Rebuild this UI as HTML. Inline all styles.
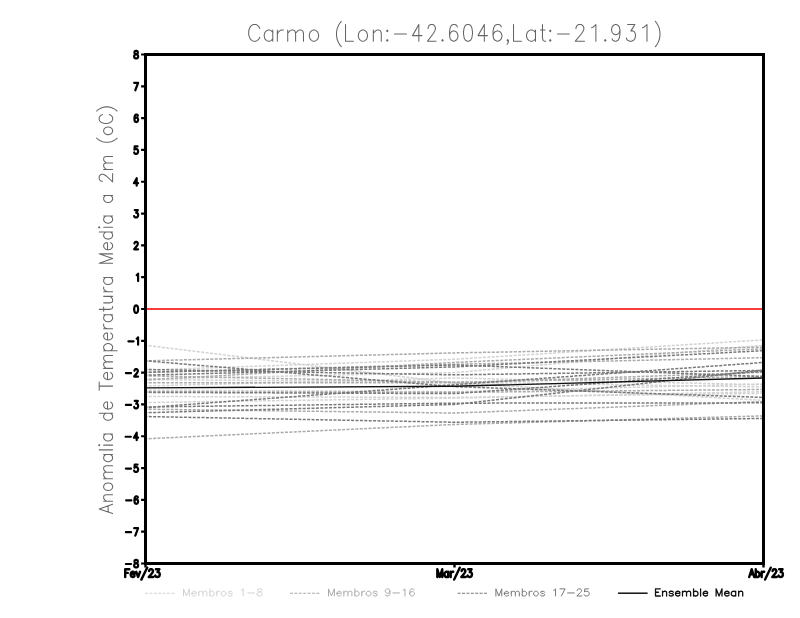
<!DOCTYPE html>
<html lang="pt"><head><meta charset="utf-8"><title>Carmo (Lon:-42.6046,Lat:-21.931)</title>
<style>
html,body{margin:0;padding:0;background:#fff;font-family:"Liberation Sans",sans-serif;}
body{width:800px;height:618px;overflow:hidden;}
svg{display:block;}
</style></head><body>
<svg width="800" height="618" viewBox="0 0 800 618">
<rect width="800" height="618" fill="#fff"/>
<g id="title" fill="none" stroke="#646464" stroke-width="1.05" stroke-linecap="round" stroke-linejoin="round">
<path d="M259.78 37.2 L259.04 38.78 L257.57 40.36 L256.09 41.15 L253.15 41.15 L251.67 40.36 L250.2 38.78 L249.46 37.2 L248.72 34.83 L248.72 30.88 L249.46 28.51 L250.2 26.93 L251.67 25.35 L253.15 24.56 L256.09 24.56 L257.57 25.35 L259.04 26.93 L259.78 28.51 M272.78 38.78 L271.35 40.36 L269.93 41.15 L267.79 41.15 L266.36 40.36 L264.94 38.78 L264.23 36.41 L264.23 34.83 L264.94 32.46 L266.36 30.88 L267.79 30.09 L269.93 30.09 L271.35 30.88 L272.78 32.46 M272.78 41.15 L272.78 30.09 M277.33 41.15 L277.33 30.09 M277.33 34.83 L278.09 32.46 L279.63 30.88 L281.17 30.09 L283.48 30.09 M287.72 41.15 L287.72 30.09 M287.72 33.25 L289.87 30.88 L291.3 30.09 L293.45 30.09 L294.88 30.88 L295.6 33.25 L295.6 41.15 M295.6 33.25 L297.75 30.88 L299.18 30.09 L301.33 30.09 L302.76 30.88 L303.48 33.25 L303.48 41.15 M309.32 36.41 L309.32 34.83 L310.04 32.46 L311.46 30.88 L312.88 30.09 L315.02 30.09 L316.44 30.88 L317.86 32.46 L318.58 34.83 L318.58 36.41 L317.86 38.78 L316.44 40.36 L315.02 41.15 L312.88 41.15 L311.46 40.36 L310.04 38.78 L309.32 36.41 M341.28 46.68 L339.92 45.1 L338.56 42.73 L337.2 39.57 L336.52 35.62 L336.52 32.46 L337.2 28.51 L338.56 25.35 L339.92 22.98 L341.28 21.4 M345.52 24.56 L345.52 41.15 L353.48 41.15 M358.32 36.41 L358.32 34.83 L359.03 32.46 L360.44 30.88 L361.84 30.09 L363.96 30.09 L365.36 30.88 L366.77 32.46 L367.48 34.83 L367.48 36.41 L366.77 38.78 L365.36 40.36 L363.96 41.15 L361.84 41.15 L360.44 40.36 L359.03 38.78 L358.32 36.41 M373.32 41.15 L373.32 30.09 M373.32 33.25 L375.49 30.88 L376.94 30.09 L379.11 30.09 L380.55 30.88 L381.28 33.25 L381.28 41.15 M386.59 40.36 L387.25 41.15 L387.91 40.36 L387.25 39.57 L386.59 40.36 M386.59 30.88 L387.25 31.67 L387.91 30.88 L387.25 30.09 L386.59 30.88 M394.52 34.04 L406.48 34.04 M421.98 35.62 L412.52 35.62 L418.83 24.56 L418.83 41.15 M435.98 41.15 L427.52 41.15 L433.56 33.25 L434.77 30.88 L435.37 29.3 L435.37 27.72 L434.77 26.14 L434.16 25.35 L432.96 24.56 L430.54 24.56 L429.34 25.35 L428.73 26.14 L428.13 27.72 L428.13 28.51 M441.89 40.36 L442.55 41.15 L443.21 40.36 L442.55 39.57 L441.89 40.36 M449.52 35.62 L449.52 31.67 L450.17 27.72 L451.47 25.35 L453.43 24.56 L454.73 24.56 L456.68 25.35 L457.32 26.93 M449.52 35.62 L450.17 38.78 L451.47 40.36 L453.43 41.15 L454.07 41.15 L456.02 40.36 L457.32 38.78 L457.98 36.41 L457.98 35.62 L457.32 33.25 L456.02 31.67 L454.07 30.88 L453.43 30.88 L451.47 31.67 L450.17 33.25 L449.52 35.62 M463.52 34.04 L463.52 31.67 L464.16 27.72 L465.44 25.35 L467.36 24.56 L468.64 24.56 L470.56 25.35 L471.84 27.72 L472.48 31.67 L472.48 34.04 L471.84 37.99 L470.56 40.36 L468.64 41.15 L467.36 41.15 L465.44 40.36 L464.16 37.99 L463.52 34.04 M487.48 35.62 L478.02 35.62 L484.33 24.56 L484.33 41.15 M493.02 35.62 L493.02 31.67 L493.71 27.72 L495.09 25.35 L497.16 24.56 L498.53 24.56 L500.6 25.35 L501.29 26.93 M493.02 35.62 L493.71 38.78 L495.09 40.36 L497.16 41.15 L497.84 41.15 L499.91 40.36 L501.29 38.78 L501.98 36.41 L501.98 35.62 L501.29 33.25 L499.91 31.67 L497.84 30.88 L497.16 30.88 L495.09 31.67 L493.71 33.25 L493.02 35.62 M507.09 44.31 L507.75 43.52 L508.41 41.94 L508.41 40.36 L507.75 41.15 L507.09 40.36 L507.75 39.57 L508.41 40.36 M513.52 24.56 L513.52 41.15 L521.48 41.15 M535.47 38.78 L533.98 40.36 L532.49 41.15 L530.25 41.15 L528.76 40.36 L527.27 38.78 L526.52 36.41 L526.52 34.83 L527.27 32.46 L528.76 30.88 L530.25 30.09 L532.49 30.09 L533.98 30.88 L535.47 32.46 M535.47 41.15 L535.47 30.09 M540.52 30.09 L545.03 30.09 M542.46 24.56 L542.46 37.99 L543.1 40.36 L544.39 41.15 L545.68 41.15 M549.59 40.36 L550.25 41.15 L550.91 40.36 L550.25 39.57 L549.59 40.36 M549.59 30.88 L550.25 31.67 L550.91 30.88 L550.25 30.09 L549.59 30.88 M557.52 34.04 L569.27 34.04 M584.48 41.15 L575.32 41.15 L581.86 33.25 L583.17 30.88 L583.82 29.3 L583.82 27.72 L583.17 26.14 L582.51 25.35 L581.21 24.56 L578.59 24.56 L577.29 25.35 L576.63 26.14 L575.98 27.72 L575.98 28.51 M591.62 27.72 L593.32 26.93 L595.88 24.56 L595.88 41.15 M604.59 40.36 L605.25 41.15 L605.91 40.36 L605.25 39.57 L604.59 40.36 M612.17 38.78 L612.82 40.36 L614.77 41.15 L616.07 41.15 L618.02 40.36 L619.32 37.99 L619.98 34.04 L619.98 30.09 L619.32 32.46 L618.02 34.04 L616.07 34.83 L615.42 34.83 L613.47 34.04 L612.17 32.46 L611.52 30.09 L611.52 29.3 L612.17 26.93 L613.47 25.35 L615.42 24.56 L616.07 24.56 L618.02 25.35 L619.32 26.93 L619.98 30.09 M626.32 37.99 L626.98 39.57 L627.63 40.36 L629.59 41.15 L631.55 41.15 L633.51 40.36 L634.82 38.78 L635.48 36.41 L635.48 34.83 L634.82 32.46 L634.17 31.67 L632.86 30.88 L630.9 30.88 L634.82 24.56 L627.63 24.56 M642.52 27.72 L644.31 26.93 L646.98 24.56 L646.98 41.15 M655.32 46.68 L656.65 45.1 L657.98 42.73 L659.31 39.57 L659.98 35.62 L659.98 32.46 L659.31 28.51 L657.98 25.35 L656.65 22.98 L655.32 21.4"/></g>
<text x="248" y="41.15" font-family="Liberation Sans, sans-serif" font-size="24" fill="none" text-anchor="start">Carmo (Lon:-42.6046,Lat:-21.931)</text>
<g id="ylabel" fill="none" stroke="#686868" stroke-width="1.05" stroke-linecap="round" stroke-linejoin="round">
<path d="M112.6 513.6 L99.2 508.88 L112.6 504.16 M108.13 511.83 L108.13 505.93 M112.6 501.2 L103.67 501.2 M106.22 501.2 L104.31 499.43 L103.67 498.25 L103.67 496.48 L104.31 495.3 L106.22 494.71 L112.6 494.71 M108.77 490.58 L107.5 490.58 L105.58 489.99 L104.31 488.81 L103.67 487.63 L103.67 485.86 L104.31 484.68 L105.58 483.49 L107.5 482.9 L108.77 482.9 L110.69 483.49 L111.96 484.68 L112.6 485.86 L112.6 487.63 L111.96 488.81 L110.69 489.99 L108.77 490.58 M112.6 478.77 L103.67 478.77 M106.22 478.77 L104.31 477 L103.67 475.82 L103.67 474.05 L104.31 472.87 L106.22 472.28 L112.6 472.28 M106.22 472.28 L104.31 470.51 L103.67 469.33 L103.67 467.56 L104.31 466.38 L106.22 465.79 L112.6 465.79 M110.69 454.57 L111.96 455.75 L112.6 456.93 L112.6 458.7 L111.96 459.88 L110.69 461.06 L108.77 461.65 L107.5 461.65 L105.58 461.06 L104.31 459.88 L103.67 458.7 L103.67 456.93 L104.31 455.75 L105.58 454.57 M112.6 454.57 L103.67 454.57 M112.6 449.85 L99.2 449.85 M112.6 445.13 L103.67 445.13 M99.2 445.72 L99.84 445.13 L99.2 444.53 L98.56 445.13 L99.2 445.72 M110.69 433.91 L111.96 435.09 L112.6 436.27 L112.6 438.04 L111.96 439.22 L110.69 440.4 L108.77 440.99 L107.5 440.99 L105.58 440.4 L104.31 439.22 L103.67 438.04 L103.67 436.27 L104.31 435.09 L105.58 433.91 M112.6 433.91 L103.67 433.91 M110.69 413.25 L111.96 414.43 L112.6 415.61 L112.6 417.38 L111.96 418.56 L110.69 419.74 L108.77 420.33 L107.5 420.33 L105.58 419.74 L104.31 418.56 L103.67 417.38 L103.67 415.61 L104.31 414.43 L105.58 413.25 M112.6 413.25 L99.2 413.25 M107.5 409.12 L108.77 409.12 L110.69 408.53 L111.96 407.35 L112.6 406.17 L112.6 404.39 L111.96 403.21 L110.69 402.03 M107.5 409.12 L105.58 408.53 L104.31 407.35 L103.67 406.17 L103.67 404.39 L104.31 403.21 L104.94 402.62 L106.22 402.03 L107.5 402.03 L107.5 409.12 M99.2 390.23 L99.2 381.96 M112.6 386.1 L99.2 386.1 M107.5 379.6 L108.77 379.6 L110.69 379.01 L111.96 377.83 L112.6 376.65 L112.6 374.88 L111.96 373.7 L110.69 372.52 M107.5 379.6 L105.58 379.01 L104.31 377.83 L103.67 376.65 L103.67 374.88 L104.31 373.7 L104.94 373.11 L106.22 372.52 L107.5 372.52 L107.5 379.6 M112.6 368.39 L103.67 368.39 M106.22 368.39 L104.31 366.62 L103.67 365.43 L103.67 363.66 L104.31 362.48 L106.22 361.89 L112.6 361.89 M106.22 361.89 L104.31 360.12 L103.67 358.94 L103.67 357.17 L104.31 355.99 L106.22 355.4 L112.6 355.4 M117.07 350.68 L103.67 350.68 M110.69 350.68 L111.96 349.5 L112.6 348.32 L112.6 346.55 L111.96 345.36 L110.69 344.18 L108.77 343.59 L107.5 343.59 L105.58 344.18 L104.31 345.36 L103.67 346.55 L103.67 348.32 L104.31 349.5 L105.58 350.68 M107.5 340.05 L108.77 340.05 L110.69 339.46 L111.96 338.28 L112.6 337.1 L112.6 335.33 L111.96 334.15 L110.69 332.97 M107.5 340.05 L105.58 339.46 L104.31 338.28 L103.67 337.1 L103.67 335.33 L104.31 334.15 L104.94 333.56 L106.22 332.97 L107.5 332.97 L107.5 340.05 M112.6 328.84 L103.67 328.84 M107.5 328.84 L105.58 328.25 L104.31 327.07 L103.67 325.88 L103.67 324.11 M110.69 314.67 L111.96 315.85 L112.6 317.03 L112.6 318.8 L111.96 319.98 L110.69 321.16 L108.77 321.75 L107.5 321.75 L105.58 321.16 L104.31 319.98 L103.67 318.8 L103.67 317.03 L104.31 315.85 L105.58 314.67 M112.6 314.67 L103.67 314.67 M103.67 311.13 L103.67 307 M99.2 309.36 L110.05 309.36 L111.96 308.77 L112.6 307.59 L112.6 306.4 M103.67 302.86 L110.05 302.86 L111.96 302.27 L112.6 301.09 L112.6 299.32 L111.96 298.14 L110.05 296.37 M112.6 296.37 L103.67 296.37 M112.6 291.65 L103.67 291.65 M107.5 291.65 L105.58 291.06 L104.31 289.88 L103.67 288.7 L103.67 286.92 M110.69 277.48 L111.96 278.66 L112.6 279.84 L112.6 281.61 L111.96 282.79 L110.69 283.97 L108.77 284.56 L107.5 284.56 L105.58 283.97 L104.31 282.79 L103.67 281.61 L103.67 279.84 L104.31 278.66 L105.58 277.48 M112.6 277.48 L103.67 277.48 M112.6 263.31 L99.2 263.31 L112.6 258.59 L99.2 253.87 L112.6 253.87 M107.5 249.74 L108.77 249.74 L110.69 249.15 L111.96 247.96 L112.6 246.78 L112.6 245.01 L111.96 243.83 L110.69 242.65 M107.5 249.74 L105.58 249.15 L104.31 247.96 L103.67 246.78 L103.67 245.01 L104.31 243.83 L104.94 243.24 L106.22 242.65 L107.5 242.65 L107.5 249.74 M110.69 232.03 L111.96 233.21 L112.6 234.39 L112.6 236.16 L111.96 237.34 L110.69 238.52 L108.77 239.11 L107.5 239.11 L105.58 238.52 L104.31 237.34 L103.67 236.16 L103.67 234.39 L104.31 233.21 L105.58 232.03 M112.6 232.03 L99.2 232.03 M112.6 227.3 L103.67 227.3 M99.2 227.89 L99.84 227.3 L99.2 226.71 L98.56 227.3 L99.2 227.89 M110.69 216.09 L111.96 217.27 L112.6 218.45 L112.6 220.22 L111.96 221.4 L110.69 222.58 L108.77 223.17 L107.5 223.17 L105.58 222.58 L104.31 221.4 L103.67 220.22 L103.67 218.45 L104.31 217.27 L105.58 216.09 M112.6 216.09 L103.67 216.09 M110.69 195.43 L111.96 196.61 L112.6 197.79 L112.6 199.56 L111.96 200.74 L110.69 201.92 L108.77 202.51 L107.5 202.51 L105.58 201.92 L104.31 200.74 L103.67 199.56 L103.67 197.79 L104.31 196.61 L105.58 195.43 M112.6 195.43 L103.67 195.43 M112.6 173.59 L112.6 181.85 L106.22 175.95 L104.31 174.77 L103.03 174.18 L101.75 174.18 L100.48 174.77 L99.84 175.36 L99.2 176.54 L99.2 178.9 L99.84 180.08 L100.48 180.67 L101.75 181.26 L102.39 181.26 M112.6 169.46 L103.67 169.46 M106.22 169.46 L104.31 167.68 L103.67 166.5 L103.67 164.73 L104.31 163.55 L106.22 162.96 L112.6 162.96 M106.22 162.96 L104.31 161.19 L103.67 160.01 L103.67 158.24 L104.31 157.06 L106.22 156.47 L112.6 156.47 M117.07 138.17 L115.79 139.35 L113.88 140.53 L111.32 141.71 L108.13 142.3 L105.58 142.3 L102.39 141.71 L99.84 140.53 L97.93 139.35 L96.65 138.17 M108.77 134.63 L107.5 134.63 L105.58 134.04 L104.31 132.86 L103.67 131.68 L103.67 129.9 L104.31 128.72 L105.58 127.54 L107.5 126.95 L108.77 126.95 L110.69 127.54 L111.96 128.72 L112.6 129.9 L112.6 131.68 L111.96 132.86 L110.69 134.04 L108.77 134.63 M109.41 114.56 L110.69 115.15 L111.96 116.33 L112.6 117.51 L112.6 119.87 L111.96 121.05 L110.69 122.23 L109.41 122.82 L107.5 123.41 L104.31 123.41 L102.39 122.82 L101.12 122.23 L99.84 121.05 L99.2 119.87 L99.2 117.51 L99.84 116.33 L101.12 115.15 L102.39 114.56 M117.07 111.02 L115.79 109.83 L113.88 108.65 L111.32 107.47 L108.13 106.88 L105.58 106.88 L102.39 107.47 L99.84 108.65 L97.93 109.83 L96.65 111.02"/></g>
<text x="112.6" y="514.19" font-family="Liberation Sans, sans-serif" font-size="18" fill="none" text-anchor="start" transform="rotate(-90 112.6 514.19)">Anomalia de Temperatura Media a 2m (oC)</text>
<g id="members" fill="none" stroke-width="1.5" stroke-dasharray="3 1.4" stroke-dashoffset="1.15">
<path stroke="#d2d2d2" d="M145.5 345.27 L454.5 383.12 L763.5 400.3"/>
<path stroke="#d2d2d2" d="M145.5 370.08 L454.5 359.26 L763.5 339.86"/>
<path stroke="#d2d2d2" d="M145.5 385.99 L454.5 378.03 L763.5 384.71"/>
<path stroke="#d2d2d2" d="M145.5 396.48 L454.5 397.44 L763.5 393.3"/>
<path stroke="#d2d2d2" d="M145.5 402.53 L454.5 398.07 L763.5 391.71"/>
<path stroke="#d2d2d2" d="M145.5 378.99 L454.5 372.62 L763.5 345.27"/>
<path stroke="#d2d2d2" d="M145.5 379.62 L454.5 382.17 L763.5 386.94"/>
<path stroke="#d2d2d2" d="M145.5 390.12 L454.5 391.71 L763.5 384.08"/>
<path stroke="#aaaaaa" d="M145.5 360.85 L454.5 352.9 L763.5 347.18"/>
<path stroke="#aaaaaa" d="M145.5 379.94 L454.5 362.44 L763.5 348.77"/>
<path stroke="#aaaaaa" d="M145.5 372.31 L454.5 364.35 L763.5 357.67"/>
<path stroke="#aaaaaa" d="M145.5 382.81 L454.5 382.81 L763.5 372.31"/>
<path stroke="#aaaaaa" d="M145.5 438.8 L454.5 424.48 L763.5 415.89"/>
<path stroke="#aaaaaa" d="M145.5 409.21 L454.5 413.03 L763.5 401.57"/>
<path stroke="#aaaaaa" d="M145.5 391.71 L454.5 392.35 L763.5 389.49"/>
<path stroke="#aaaaaa" d="M145.5 375.81 L454.5 382.17 L763.5 376.44"/>
<path stroke="#787878" d="M145.5 360.85 L454.5 386.62 L763.5 397.44"/>
<path stroke="#787878" d="M145.5 375.17 L454.5 366.9 L763.5 350.67"/>
<path stroke="#787878" d="M145.5 369.44 L454.5 374.85 L763.5 370.4"/>
<path stroke="#787878" d="M145.5 407.62 L454.5 384.71 L763.5 362.44"/>
<path stroke="#787878" d="M145.5 392.35 L454.5 393.62 L763.5 371.35"/>
<path stroke="#787878" d="M145.5 406.98 L454.5 403.16 L763.5 402.85"/>
<path stroke="#787878" d="M145.5 412.71 L454.5 404.44 L763.5 370.08"/>
<path stroke="#787878" d="M145.5 416.53 L454.5 422.25 L763.5 418.44"/>
<path stroke="#787878" d="M145.5 372.31 L454.5 364.99 L763.5 376.44"/>
</g>
<path id="zero" d="M145.5 309 H763.5" stroke="#fa3c3c" stroke-width="2" fill="none"/>
<path id="mean" fill="none" stroke="#111" stroke-width="1.4" d="M145.5 387.89 L454.5 386.3 L763.5 378.03"/>
<rect id="frame" x="145.5" y="54.5" width="618" height="509" fill="none" stroke="#000" stroke-width="3"/>
<path id="yticks" d="M141.1 563.5 H145.5 M141.1 531.69 H145.5 M141.1 499.88 H145.5 M141.1 468.06 H145.5 M141.1 436.25 H145.5 M141.1 404.44 H145.5 M141.1 372.62 H145.5 M141.1 340.81 H145.5 M141.1 309 H145.5 M141.1 277.19 H145.5 M141.1 245.38 H145.5 M141.1 213.56 H145.5 M141.1 181.75 H145.5 M141.1 149.94 H145.5 M141.1 118.12 H145.5 M141.1 86.31 H145.5 M141.1 54.5 H145.5" stroke="#000" stroke-width="2.2" fill="none"/>
<path id="xticks" d="M145.5 563.5 V567.4 M454.5 563.5 V567.4 M763.5 563.5 V567.4" stroke="#000" stroke-width="2.4" fill="none"/>
<text x="139.2" y="567.43" font-family="Liberation Sans, sans-serif" font-size="10" fill="none" text-anchor="end">-8</text>
<text x="139.2" y="535.62" font-family="Liberation Sans, sans-serif" font-size="10" fill="none" text-anchor="end">-7</text>
<text x="139.2" y="503.8" font-family="Liberation Sans, sans-serif" font-size="10" fill="none" text-anchor="end">-6</text>
<text x="139.2" y="471.99" font-family="Liberation Sans, sans-serif" font-size="10" fill="none" text-anchor="end">-5</text>
<text x="139.2" y="440.18" font-family="Liberation Sans, sans-serif" font-size="10" fill="none" text-anchor="end">-4</text>
<text x="139.2" y="408.37" font-family="Liberation Sans, sans-serif" font-size="10" fill="none" text-anchor="end">-3</text>
<text x="139.2" y="376.55" font-family="Liberation Sans, sans-serif" font-size="10" fill="none" text-anchor="end">-2</text>
<text x="139.2" y="344.74" font-family="Liberation Sans, sans-serif" font-size="10" fill="none" text-anchor="end">-1</text>
<text x="139.2" y="312.93" font-family="Liberation Sans, sans-serif" font-size="10" fill="none" text-anchor="end">0</text>
<text x="139.2" y="281.12" font-family="Liberation Sans, sans-serif" font-size="10" fill="none" text-anchor="end">1</text>
<text x="139.2" y="249.3" font-family="Liberation Sans, sans-serif" font-size="10" fill="none" text-anchor="end">2</text>
<text x="139.2" y="217.49" font-family="Liberation Sans, sans-serif" font-size="10" fill="none" text-anchor="end">3</text>
<text x="139.2" y="185.68" font-family="Liberation Sans, sans-serif" font-size="10" fill="none" text-anchor="end">4</text>
<text x="139.2" y="153.86" font-family="Liberation Sans, sans-serif" font-size="10" fill="none" text-anchor="end">5</text>
<text x="139.2" y="122.05" font-family="Liberation Sans, sans-serif" font-size="10" fill="none" text-anchor="end">6</text>
<text x="139.2" y="90.24" font-family="Liberation Sans, sans-serif" font-size="10" fill="none" text-anchor="end">7</text>
<text x="139.2" y="58.43" font-family="Liberation Sans, sans-serif" font-size="10" fill="none" text-anchor="end">8</text>
<path id="ylabels" d="M134.18 566.01 L134.18 564.94 L134.46 564.23 L135.02 563.52 L135.86 563.17 L136.98 562.81 L137.54 562.46 L137.82 561.75 L137.82 561.04 L137.54 560.33 L136.7 559.97 L135.58 559.97 L134.74 560.33 L134.46 561.04 L134.46 561.75 L134.74 562.46 L135.3 562.81 L136.42 563.17 L137.26 563.52 L137.82 564.23 L138.1 564.94 L138.1 566.01 L137.82 566.72 L137.54 567.07 L136.7 567.43 L135.58 567.43 L134.74 567.07 L134.46 566.72 L134.18 566.01 M125.88 564 H131.08 M134.18 528.16 L138.1 528.16 L135.3 535.62 M125.88 532.19 H131.08 M134.46 501.32 L134.46 499.54 L134.74 497.77 L135.3 496.7 L136.14 496.35 L136.7 496.35 L137.54 496.7 L137.82 497.41 M134.46 501.32 L134.74 502.74 L135.3 503.45 L136.14 503.8 L136.42 503.8 L137.26 503.45 L137.82 502.74 L138.1 501.67 L138.1 501.32 L137.82 500.25 L137.26 499.54 L136.42 499.19 L136.14 499.19 L135.3 499.54 L134.74 500.25 L134.46 501.32 M126.16 500.38 H131.36 M134.18 470.57 L134.46 471.28 L134.74 471.63 L135.58 471.99 L136.42 471.99 L137.26 471.63 L137.82 470.93 L138.1 469.86 L138.1 469.15 L137.82 468.09 L137.26 467.38 L136.42 467.02 L135.58 467.02 L134.74 467.38 L134.46 467.73 L134.74 464.54 L137.54 464.54 M125.88 468.56 H131.08 M138.1 437.69 L133.9 437.69 L136.7 432.72 L136.7 440.18 M125.6 436.75 H130.8 M134.18 406.94 L134.46 407.66 L134.74 408.01 L135.58 408.37 L136.42 408.37 L137.26 408.01 L137.82 407.3 L138.1 406.24 L138.1 405.53 L137.82 404.46 L137.54 404.11 L136.98 403.75 L136.14 403.75 L137.82 400.91 L134.74 400.91 M125.88 404.94 H131.08 M138.1 376.55 L134.18 376.55 L136.98 373 L137.54 371.94 L137.82 371.23 L137.82 370.52 L137.54 369.81 L137.26 369.45 L136.7 369.1 L135.58 369.1 L135.02 369.45 L134.74 369.81 L134.46 370.52 L134.46 370.87 M125.88 373.12 H131.08 M136.7 338.7 L137.26 338.35 L138.1 337.29 L138.1 344.74 M128.4 341.31 H133.6 M134.18 309.73 L134.18 308.67 L134.46 306.89 L135.02 305.83 L135.86 305.47 L136.42 305.47 L137.26 305.83 L137.82 306.89 L138.1 308.67 L138.1 309.73 L137.82 311.51 L137.26 312.57 L136.42 312.93 L135.86 312.93 L135.02 312.57 L134.46 311.51 L134.18 309.73 M136.7 275.08 L137.26 274.73 L138.1 273.66 L138.1 281.12 M138.1 249.3 L134.18 249.3 L136.98 245.75 L137.54 244.69 L137.82 243.98 L137.82 243.27 L137.54 242.56 L137.26 242.2 L136.7 241.85 L135.58 241.85 L135.02 242.2 L134.74 242.56 L134.46 243.27 L134.46 243.62 M134.18 216.07 L134.46 216.78 L134.74 217.13 L135.58 217.49 L136.42 217.49 L137.26 217.13 L137.82 216.42 L138.1 215.36 L138.1 214.65 L137.82 213.58 L137.54 213.23 L136.98 212.87 L136.14 212.87 L137.82 210.03 L134.74 210.03 M138.1 183.19 L133.9 183.19 L136.7 178.22 L136.7 185.68 M134.18 152.44 L134.46 153.15 L134.74 153.51 L135.58 153.86 L136.42 153.86 L137.26 153.51 L137.82 152.8 L138.1 151.73 L138.1 151.02 L137.82 149.96 L137.26 149.25 L136.42 148.89 L135.58 148.89 L134.74 149.25 L134.46 149.6 L134.74 146.41 L137.54 146.41 M134.46 119.57 L134.46 117.79 L134.74 116.02 L135.3 114.95 L136.14 114.6 L136.7 114.6 L137.54 114.95 L137.82 115.66 M134.46 119.57 L134.74 120.99 L135.3 121.7 L136.14 122.05 L136.42 122.05 L137.26 121.7 L137.82 120.99 L138.1 119.92 L138.1 119.57 L137.82 118.5 L137.26 117.79 L136.42 117.44 L136.14 117.44 L135.3 117.79 L134.74 118.5 L134.46 119.57 M134.18 82.79 L138.1 82.79 L135.3 90.24 M134.18 57.01 L134.18 55.94 L134.46 55.23 L135.02 54.52 L135.86 54.17 L136.98 53.81 L137.54 53.46 L137.82 52.75 L137.82 52.04 L137.54 51.33 L136.7 50.97 L135.58 50.97 L134.74 51.33 L134.46 52.04 L134.46 52.75 L134.74 53.46 L135.3 53.81 L136.42 54.17 L137.26 54.52 L137.82 55.23 L138.1 55.94 L138.1 57.01 L137.82 57.72 L137.54 58.07 L136.7 58.43 L135.58 58.43 L134.74 58.07 L134.46 57.72 L134.18 57.01" fill="none" stroke="#000" stroke-width="2.2" stroke-linecap="round" stroke-linejoin="round"/>
<text x="123.91" y="577" font-family="Liberation Sans, sans-serif" font-size="11" fill="none" text-anchor="start">Fev/23</text>
<text x="436.05" y="577" font-family="Liberation Sans, sans-serif" font-size="11" fill="none" text-anchor="start">Mar/23</text>
<text x="748.89" y="577" font-family="Liberation Sans, sans-serif" font-size="11" fill="none" text-anchor="start">Abr/23</text>
<path id="xlabels" d="M125.2 577 L125.2 569.19 L129.4 569.19 M125.2 572.91 L127.78 572.91 M130.69 574.02 L130.69 574.77 L131.01 575.88 L131.66 576.63 L132.31 577 L133.28 577 L133.92 576.63 L134.57 575.88 M130.69 574.02 L131.01 572.91 L131.66 572.16 L132.31 571.79 L133.28 571.79 L133.92 572.16 L134.24 572.54 L134.57 573.28 L134.57 574.02 L130.69 574.02 M136.18 571.79 L138.12 577 L140.06 571.79 M141.35 579.6 L147.16 567.7 M153.3 577 L148.78 577 L152.01 573.28 L152.66 572.16 L152.98 571.42 L152.98 570.68 L152.66 569.93 L152.33 569.56 L151.69 569.19 L150.39 569.19 L149.75 569.56 L149.43 569.93 L149.1 570.68 L149.1 571.05 M155.24 575.51 L155.56 576.26 L155.88 576.63 L156.85 577 L157.82 577 L158.79 576.63 L159.44 575.88 L159.76 574.77 L159.76 574.02 L159.44 572.91 L159.12 572.54 L158.47 572.16 L157.5 572.16 L159.44 569.19 L155.88 569.19 M437.3 577 L437.3 569.19 L439.8 577 L442.29 569.19 L442.29 577 M448.22 575.88 L447.6 576.63 L446.97 577 L446.04 577 L445.41 576.63 L444.79 575.88 L444.48 574.77 L444.48 574.02 L444.79 572.91 L445.41 572.16 L446.04 571.79 L446.97 571.79 L447.6 572.16 L448.22 572.91 M448.22 577 L448.22 571.79 M450.72 577 L450.72 571.79 M450.72 574.02 L451.03 572.91 L451.65 572.16 L452.28 571.79 L453.21 571.79 M454.15 579.6 L459.76 567.7 M465.69 577 L461.32 577 L464.44 573.28 L465.07 572.16 L465.38 571.42 L465.38 570.68 L465.07 569.93 L464.76 569.56 L464.13 569.19 L462.88 569.19 L462.26 569.56 L461.95 569.93 L461.64 570.68 L461.64 571.05 M467.56 575.51 L467.88 576.26 L468.19 576.63 L469.12 577 L470.06 577 L471 576.63 L471.62 575.88 L471.93 574.77 L471.93 574.02 L471.62 572.91 L471.31 572.54 L470.68 572.16 L469.75 572.16 L471.62 569.19 L468.19 569.19 M749.2 577 L751.7 569.19 L754.19 577 M750.14 574.4 L753.26 574.4 M755.75 577 L755.75 569.19 M755.75 575.88 L756.38 576.63 L757 577 L757.94 577 L758.56 576.63 L759.18 575.88 L759.5 574.77 L759.5 574.02 L759.18 572.91 L758.56 572.16 L757.94 571.79 L757 571.79 L756.38 572.16 L755.75 572.91 M761.68 577 L761.68 571.79 M761.68 574.02 L761.99 572.91 L762.62 572.16 L763.24 571.79 L764.18 571.79 M765.11 579.6 L770.73 567.7 M776.66 577 L772.29 577 L775.41 573.28 L776.03 572.16 L776.34 571.42 L776.34 570.68 L776.03 569.93 L775.72 569.56 L775.1 569.19 L773.85 569.19 L773.22 569.56 L772.91 569.93 L772.6 570.68 L772.6 571.05 M778.53 575.51 L778.84 576.26 L779.15 576.63 L780.09 577 L781.02 577 L781.96 576.63 L782.58 575.88 L782.9 574.77 L782.9 574.02 L782.58 572.91 L782.27 572.54 L781.65 572.16 L780.71 572.16 L782.58 569.19 L779.15 569.19" fill="none" stroke="#000" stroke-width="2.4" stroke-linecap="round" stroke-linejoin="round"/>
<path d="M145 593.2 H174.5" stroke="#d2d2d2" stroke-width="1.1" fill="none" stroke-dasharray="3 1.4"/>
<path d="M183.5 596 L183.5 588.86 L186.43 596 L189.36 588.86 L189.36 596 M191.92 593.28 L191.92 593.96 L192.28 594.98 L193.02 595.66 L193.75 596 L194.85 596 L195.58 595.66 L196.31 594.98 M191.92 593.28 L192.28 592.26 L193.02 591.58 L193.75 591.24 L194.85 591.24 L195.58 591.58 L195.94 591.92 L196.31 592.6 L196.31 593.28 L191.92 593.28 M198.87 596 L198.87 591.24 M198.87 592.6 L199.97 591.58 L200.7 591.24 L201.8 591.24 L202.53 591.58 L202.9 592.6 L202.9 596 M202.9 592.6 L204 591.58 L204.73 591.24 L205.83 591.24 L206.56 591.58 L206.92 592.6 L206.92 596 M209.85 596 L209.85 588.86 M209.85 594.98 L210.58 595.66 L211.32 596 L212.41 596 L213.15 595.66 L213.88 594.98 L214.24 593.96 L214.24 593.28 L213.88 592.26 L213.15 591.58 L212.41 591.24 L211.32 591.24 L210.58 591.58 L209.85 592.26 M216.81 596 L216.81 591.24 M216.81 593.28 L217.17 592.26 L217.9 591.58 L218.64 591.24 L219.73 591.24 M221.2 593.96 L221.2 593.28 L221.56 592.26 L222.3 591.58 L223.03 591.24 L224.13 591.24 L224.86 591.58 L225.59 592.26 L225.96 593.28 L225.96 593.96 L225.59 594.98 L224.86 595.66 L224.13 596 L223.03 596 L222.3 595.66 L221.56 594.98 L221.2 593.96 M228.15 594.98 L228.52 595.66 L229.62 596 L230.71 596 L231.81 595.66 L232.18 594.98 L232.18 594.64 L231.81 593.96 L231.08 593.62 L229.25 593.28 L228.52 592.94 L228.15 592.26 L228.52 591.58 L229.62 591.24 L230.71 591.24 L231.81 591.58 L232.18 592.26 M241.33 590.22 L242.06 589.88 L243.16 588.86 L243.16 596 M247.92 592.94 L254.5 592.94 M257.07 594.64 L257.07 593.62 L257.43 592.94 L258.16 592.26 L259.26 591.92 L260.73 591.58 L261.46 591.24 L261.82 590.56 L261.82 589.88 L261.46 589.2 L260.36 588.86 L258.9 588.86 L257.8 589.2 L257.43 589.88 L257.43 590.56 L257.8 591.24 L258.53 591.58 L259.99 591.92 L261.09 592.26 L261.82 592.94 L262.19 593.62 L262.19 594.64 L261.82 595.32 L261.46 595.66 L260.36 596 L258.9 596 L257.8 595.66 L257.43 595.32 L257.07 594.64" fill="none" stroke="#d2d2d2" stroke-width="1.0" stroke-linecap="round" stroke-linejoin="round"/>
<text x="182.04" y="596" font-family="Liberation Sans, sans-serif" font-size="11" fill="none" text-anchor="start">Membros 1-8</text>
<path d="M290 593.2 H320" stroke="#aaaaaa" stroke-width="1.1" fill="none" stroke-dasharray="3 1.4"/>
<path d="M328.5 596 L328.5 588.86 L331.43 596 L334.36 588.86 L334.36 596 M336.92 593.28 L336.92 593.96 L337.28 594.98 L338.02 595.66 L338.75 596 L339.85 596 L340.58 595.66 L341.31 594.98 M336.92 593.28 L337.28 592.26 L338.02 591.58 L338.75 591.24 L339.85 591.24 L340.58 591.58 L340.94 591.92 L341.31 592.6 L341.31 593.28 L336.92 593.28 M343.87 596 L343.87 591.24 M343.87 592.6 L344.97 591.58 L345.7 591.24 L346.8 591.24 L347.53 591.58 L347.9 592.6 L347.9 596 M347.9 592.6 L349 591.58 L349.73 591.24 L350.83 591.24 L351.56 591.58 L351.92 592.6 L351.92 596 M354.85 596 L354.85 588.86 M354.85 594.98 L355.58 595.66 L356.32 596 L357.41 596 L358.15 595.66 L358.88 594.98 L359.24 593.96 L359.24 593.28 L358.88 592.26 L358.15 591.58 L357.41 591.24 L356.32 591.24 L355.58 591.58 L354.85 592.26 M361.81 596 L361.81 591.24 M361.81 593.28 L362.17 592.26 L362.9 591.58 L363.64 591.24 L364.73 591.24 M366.2 593.96 L366.2 593.28 L366.56 592.26 L367.3 591.58 L368.03 591.24 L369.13 591.24 L369.86 591.58 L370.59 592.26 L370.96 593.28 L370.96 593.96 L370.59 594.98 L369.86 595.66 L369.13 596 L368.03 596 L367.3 595.66 L366.56 594.98 L366.2 593.96 M373.15 594.98 L373.52 595.66 L374.62 596 L375.71 596 L376.81 595.66 L377.18 594.98 L377.18 594.64 L376.81 593.96 L376.08 593.62 L374.25 593.28 L373.52 592.94 L373.15 592.26 L373.52 591.58 L374.62 591.24 L375.71 591.24 L376.81 591.58 L377.18 592.26 M385.6 594.98 L385.96 595.66 L387.06 596 L387.79 596 L388.89 595.66 L389.62 594.64 L389.99 592.94 L389.99 591.24 L389.62 592.26 L388.89 592.94 L387.79 593.28 L387.43 593.28 L386.33 592.94 L385.6 592.26 L385.23 591.24 L385.23 590.9 L385.6 589.88 L386.33 589.2 L387.43 588.86 L387.79 588.86 L388.89 589.2 L389.62 589.88 L389.99 591.24 M392.92 592.94 L399.5 592.94 M403.16 590.22 L403.9 589.88 L404.99 588.86 L404.99 596 M409.75 593.62 L409.75 591.92 L410.12 590.22 L410.85 589.2 L411.95 588.86 L412.68 588.86 L413.78 589.2 L414.14 589.88 M409.75 593.62 L410.12 594.98 L410.85 595.66 L411.95 596 L412.31 596 L413.41 595.66 L414.14 594.98 L414.51 593.96 L414.51 593.62 L414.14 592.6 L413.41 591.92 L412.31 591.58 L411.95 591.58 L410.85 591.92 L410.12 592.6 L409.75 593.62" fill="none" stroke="#aaaaaa" stroke-width="1.0" stroke-linecap="round" stroke-linejoin="round"/>
<text x="327.04" y="596" font-family="Liberation Sans, sans-serif" font-size="11" fill="none" text-anchor="start">Membros 9-16</text>
<path d="M457.6 593.2 H487" stroke="#787878" stroke-width="1.1" fill="none" stroke-dasharray="3 1.4"/>
<path d="M495.9 596 L495.9 588.86 L498.83 596 L501.76 588.86 L501.76 596 M504.32 593.28 L504.32 593.96 L504.68 594.98 L505.42 595.66 L506.15 596 L507.25 596 L507.98 595.66 L508.71 594.98 M504.32 593.28 L504.68 592.26 L505.42 591.58 L506.15 591.24 L507.25 591.24 L507.98 591.58 L508.34 591.92 L508.71 592.6 L508.71 593.28 L504.32 593.28 M511.27 596 L511.27 591.24 M511.27 592.6 L512.37 591.58 L513.1 591.24 L514.2 591.24 L514.93 591.58 L515.3 592.6 L515.3 596 M515.3 592.6 L516.4 591.58 L517.13 591.24 L518.23 591.24 L518.96 591.58 L519.32 592.6 L519.32 596 M522.25 596 L522.25 588.86 M522.25 594.98 L522.98 595.66 L523.72 596 L524.81 596 L525.55 595.66 L526.28 594.98 L526.64 593.96 L526.64 593.28 L526.28 592.26 L525.55 591.58 L524.81 591.24 L523.72 591.24 L522.98 591.58 L522.25 592.26 M529.21 596 L529.21 591.24 M529.21 593.28 L529.57 592.26 L530.3 591.58 L531.04 591.24 L532.13 591.24 M533.6 593.96 L533.6 593.28 L533.96 592.26 L534.7 591.58 L535.43 591.24 L536.53 591.24 L537.26 591.58 L537.99 592.26 L538.36 593.28 L538.36 593.96 L537.99 594.98 L537.26 595.66 L536.53 596 L535.43 596 L534.7 595.66 L533.96 594.98 L533.6 593.96 M540.55 594.98 L540.92 595.66 L542.02 596 L543.11 596 L544.21 595.66 L544.58 594.98 L544.58 594.64 L544.21 593.96 L543.48 593.62 L541.65 593.28 L540.92 592.94 L540.55 592.26 L540.92 591.58 L542.02 591.24 L543.11 591.24 L544.21 591.58 L544.58 592.26 M553.73 590.22 L554.46 589.88 L555.56 588.86 L555.56 596 M559.95 588.86 L565.07 588.86 L561.41 596 M567.64 592.94 L574.22 592.94 M581.91 596 L576.79 596 L580.45 592.6 L581.18 591.58 L581.54 590.9 L581.54 590.22 L581.18 589.54 L580.81 589.2 L580.08 588.86 L578.62 588.86 L577.88 589.2 L577.52 589.54 L577.15 590.22 L577.15 590.56 M584.11 594.64 L584.47 595.32 L584.84 595.66 L585.94 596 L587.03 596 L588.13 595.66 L588.86 594.98 L589.23 593.96 L589.23 593.28 L588.86 592.26 L588.13 591.58 L587.03 591.24 L585.94 591.24 L584.84 591.58 L584.47 591.92 L584.84 588.86 L588.5 588.86" fill="none" stroke="#787878" stroke-width="1.0" stroke-linecap="round" stroke-linejoin="round"/>
<text x="494.44" y="596" font-family="Liberation Sans, sans-serif" font-size="11" fill="none" text-anchor="start">Membros 17-25</text>
<path d="M618 593.2 H647.6" stroke="#111" stroke-width="1.5" fill="none"/>
<path d="M660.32 596 L655.51 596 L655.51 588.86 L660.32 588.86 M655.51 592.26 L658.47 592.26 M662.53 596 L662.53 591.24 M662.53 592.6 L663.64 591.58 L664.38 591.24 L665.49 591.24 L666.23 591.58 L666.6 592.6 L666.6 596 M669.19 594.98 L669.55 595.66 L670.66 596 L671.77 596 L672.88 595.66 L673.25 594.98 L673.25 594.64 L672.88 593.96 L672.14 593.62 L670.29 593.28 L669.55 592.94 L669.19 592.26 L669.55 591.58 L670.66 591.24 L671.77 591.24 L672.88 591.58 L673.25 592.26 M675.47 593.28 L675.47 593.96 L675.84 594.98 L676.58 595.66 L677.31 596 L678.42 596 L679.16 595.66 L679.9 594.98 M675.47 593.28 L675.84 592.26 L676.58 591.58 L677.31 591.24 L678.42 591.24 L679.16 591.58 L679.53 591.92 L679.9 592.6 L679.9 593.28 L675.47 593.28 M682.49 596 L682.49 591.24 M682.49 592.6 L683.6 591.58 L684.33 591.24 L685.44 591.24 L686.18 591.58 L686.55 592.6 L686.55 596 M686.55 592.6 L687.66 591.58 L688.4 591.24 L689.51 591.24 L690.25 591.58 L690.62 592.6 L690.62 596 M693.57 596 L693.57 588.86 M693.57 594.98 L694.31 595.66 L695.05 596 L696.16 596 L696.9 595.66 L697.64 594.98 L698.01 593.96 L698.01 593.28 L697.64 592.26 L696.9 591.58 L696.16 591.24 L695.05 591.24 L694.31 591.58 L693.57 592.26 M700.59 596 L700.59 588.86 M703.18 593.28 L703.18 593.96 L703.55 594.98 L704.29 595.66 L705.03 596 L706.14 596 L706.87 595.66 L707.61 594.98 M703.18 593.28 L703.55 592.26 L704.29 591.58 L705.03 591.24 L706.14 591.24 L706.87 591.58 L707.24 591.92 L707.61 592.6 L707.61 593.28 L703.18 593.28 M716.11 596 L716.11 588.86 L719.07 596 L722.02 588.86 L722.02 596 M724.61 593.28 L724.61 593.96 L724.98 594.98 L725.72 595.66 L726.46 596 L727.57 596 L728.31 595.66 L729.04 594.98 M724.61 593.28 L724.98 592.26 L725.72 591.58 L726.46 591.24 L727.57 591.24 L728.31 591.58 L728.67 591.92 L729.04 592.6 L729.04 593.28 L724.61 593.28 M735.7 594.98 L734.96 595.66 L734.22 596 L733.11 596 L732.37 595.66 L731.63 594.98 L731.26 593.96 L731.26 593.28 L731.63 592.26 L732.37 591.58 L733.11 591.24 L734.22 591.24 L734.96 591.58 L735.7 592.26 M735.7 596 L735.7 591.24 M738.65 596 L738.65 591.24 M738.65 592.6 L739.76 591.58 L740.5 591.24 L741.61 591.24 L742.35 591.58 L742.72 592.6 L742.72 596" fill="none" stroke="#111" stroke-width="1.3" stroke-linecap="round" stroke-linejoin="round"/>
<text x="654.04" y="596" font-family="Liberation Sans, sans-serif" font-size="11" fill="none" text-anchor="start">Ensemble Mean</text>
</svg>
</body></html>
